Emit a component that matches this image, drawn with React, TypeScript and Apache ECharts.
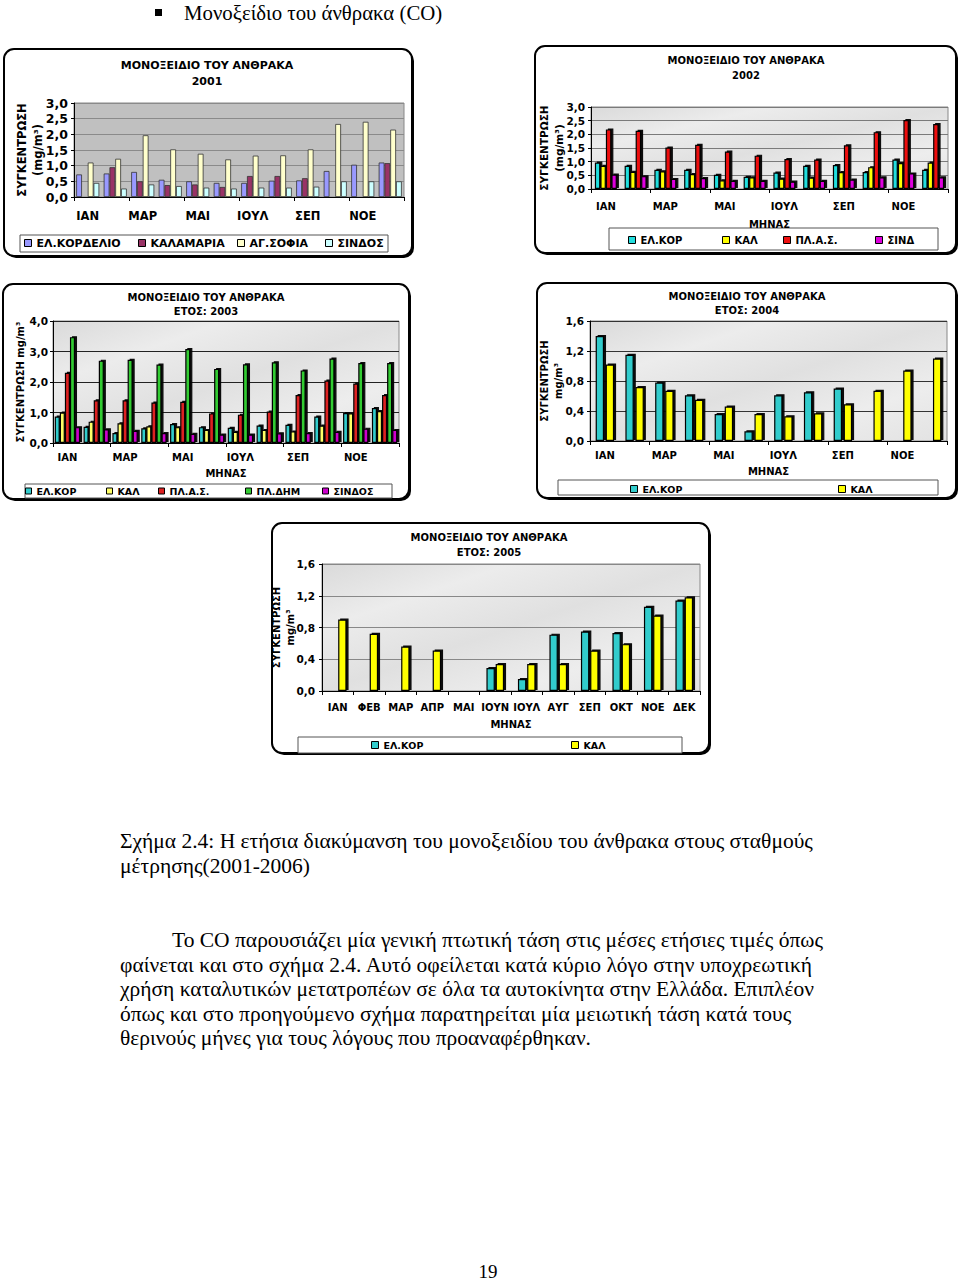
import React, { useEffect, useRef } from 'react';
import * as echarts from 'echarts';

// ---------- categories ----------
const months = ['ΙΑΝ', 'ΦΕΒ', 'ΜΑΡ', 'ΑΠΡ', 'ΜΑΙ', 'ΙΟΥΝ', 'ΙΟΥΛ', 'ΑΥΓ', 'ΣΕΠ', 'ΟΚΤ', 'ΝΟΕ', 'ΔΕΚ'];

// ---------- 2001 ----------
const kordelio2001 = [0.72, 0.75, 0.80, 0.55, 0.50, 0.45, 0.45, 0.52, 0.53, 0.83, 1.03, 1.10];
const kalamaria2001 = [null, 0.95, 0.50, 0.38, 0.40, 0.32, 0.67, 0.67, 0.60, null, null, 1.08];
const agSofia2001 = [1.10, 1.22, 1.97, 1.52, 1.38, 1.20, 1.32, 1.33, 1.52, 2.33, 2.40, 2.15];
const sindos2001 = [0.45, 0.27, 0.40, 0.35, 0.30, 0.27, 0.30, 0.30, 0.33, 0.50, 0.50, 0.50];

// ---------- 2002 ----------
const elkor2002 = [0.97, 0.85, 0.70, 0.70, 0.52, 0.45, 0.60, 0.85, 0.88, 0.62, 1.08, 0.70];
const kal2002 = [0.85, 0.63, 0.65, 0.55, 0.32, 0.43, 0.38, 0.42, 0.62, 0.80, 0.95, 0.97];
const plas2002 = [2.18, 2.13, 1.52, 1.62, 1.37, 1.22, 1.10, 1.08, 1.60, 2.08, 2.52, 2.38];
const sind2002 = [0.53, 0.47, 0.37, 0.40, 0.30, 0.30, 0.27, 0.30, 0.35, 0.43, 0.57, 0.43];

// ---------- 2003 ----------
const elkor2003 = [0.87, 0.53, 0.33, 0.48, 0.62, 0.52, 0.50, 0.57, 0.60, 0.87, 0.98, 1.15];
const kal2003 = [1.00, 0.70, 0.65, 0.55, 0.52, 0.43, 0.37, 0.43, 0.38, 0.57, 0.97, 1.05];
const plas2003 = [2.30, 1.40, 1.40, 1.33, 1.35, 0.97, 0.93, 1.03, 1.57, 2.05, 1.95, 1.57];
const pldim2003 = [3.47, 2.70, 2.73, 2.57, 3.08, 2.43, 2.58, 2.65, 2.38, 2.77, 2.62, 2.62];
const sindos2003 = [0.52, 0.45, 0.40, 0.33, 0.30, 0.28, 0.28, 0.32, 0.33, 0.37, 0.47, 0.43];

// ---------- 2004 ----------
const elkor2004 = [1.40, 1.15, 0.78, 0.61, 0.36, 0.13, 0.61, 0.65, 0.70, null, null, null];
const kal2004 = [1.02, 0.72, 0.67, 0.55, 0.46, 0.36, 0.33, 0.37, 0.49, 0.67, 0.94, 1.10];

// ---------- 2005 ----------
const elkor2005 = [null, null, null, null, null, 0.29, 0.15, 0.71, 0.75, 0.73, 1.06, 1.14];
const kal2005 = [0.90, 0.72, 0.56, 0.51, null, 0.34, 0.34, 0.34, 0.51, 0.59, 0.95, 1.18];

// ---------- texts ----------
const chartTitle = 'ΜΟΝΟΞΕΙΔΙΟ ΤΟΥ ΑΝΘΡΑΚΑ';
const headingText = 'Μονοξείδιο του άνθρακα (CO)';
const captionLines = [
  'Σχήμα 2.4: Η ετήσια διακύμανση του μονοξειδίου του άνθρακα στους σταθμούς',
  'μέτρησης(2001-2006)',
];
const paragraphLines = [
  'Το CO παρουσιάζει μία γενική πτωτική τάση στις μέσες ετήσιες τιμές όπως',
  'φαίνεται και στο σχήμα 2.4. Αυτό οφείλεται κατά κύριο λόγο στην υποχρεωτική',
  'χρήση καταλυτικών μετατροπέων σε όλα τα αυτοκίνητα στην Ελλάδα. Επιπλέον',
  'όπως και στο προηγούμενο σχήμα παρατηρείται μία μειωτική τάση κατά τους',
  'θερινούς μήνες για τους λόγους που προαναφέρθηκαν.',
];
const pageNumber = '19';

const CF = "'DejaVu Sans', Verdana, sans-serif";
const SERIF = "'Liberation Serif', 'Times New Roman', serif";

type SDef = { name: string; data: (number | null)[]; color: string; legendLeft: number };
type Panel = {
  title: string; titleX: number; titleTop: number; titleSize: number; titleLH: number;
  grid: { left: number; top: number; width: number; height: number };
  yMax: number; yInterval: number; splitColor: string; bg: any;
  yName: string; yNameGap: number; yNameLH: number; yNameSize: number;
  yLabelSize: number; yLabelMargin: number;
  xLabelSize: number; xLabelMargin: number; xLabelInterval: number;
  xName: string; xNameGap: number;
  barCategoryGap: string; barGap: string; shadow: boolean; borderColor: string;
  legendY: number; legendSize: number; legendIcon: number;
  box: [number, number, number, number]; legendBox: [number, number, number, number];
  series: SDef[];
};

const marble = () => new echarts.graphic.LinearGradient(0, 0, 1, 1, [
  { offset: 0, color: '#dadada' },
  { offset: 0.25, color: '#ececec' },
  { offset: 0.5, color: '#e0e0e0' },
  { offset: 0.75, color: '#ededed' },
  { offset: 1, color: '#e2e2e2' },
]);

const panels: Panel[] = [
  {
    title: chartTitle + '\n2001', titleX: 207, titleTop: 57, titleSize: 11, titleLH: 16,
    grid: { left: 74, top: 103, width: 330, height: 94 },
    yMax: 3, yInterval: 0.5, splitColor: '#8a8a8a', bg: '#c0c0c0',
    yName: 'ΣΥΓΚΕΝΤΡΩΣΗ\n(mg/m³)', yNameGap: 28, yNameLH: 16, yNameSize: 11.5,
    yLabelSize: 12.5, yLabelMargin: 6,
    xLabelSize: 11.5, xLabelMargin: 13, xLabelInterval: 1,
    xName: '', xNameGap: 0,
    barCategoryGap: '16%', barGap: '0%', shadow: false, borderColor: '#333',
    legendY: 243, legendSize: 11, legendIcon: 7,
    box: [4, 49, 408, 207], legendBox: [20, 235, 368, 17],
    series: [
      { name: 'ΕΛ.ΚΟΡΔΕΛΙΟ', data: kordelio2001, color: '#9999ff', legendLeft: 24 },
      { name: 'ΚΑΛΑΜΑΡΙΑ', data: kalamaria2001, color: '#993366', legendLeft: 138 },
      { name: 'ΑΓ.ΣΟΦΙΑ', data: agSofia2001, color: '#ffffcc', legendLeft: 237 },
      { name: 'ΣΙΝΔΟΣ#2001', data: sindos2001, color: '#ccffff', legendLeft: 325 },
    ],
  },
  {
    title: chartTitle + '\n2002', titleX: 746, titleTop: 53, titleSize: 10, titleLH: 15,
    grid: { left: 591, top: 107, width: 357, height: 82 },
    yMax: 3, yInterval: 0.5, splitColor: '#7a7a7a', bg: marble(),
    yName: 'ΣΥΓΚΕΝΤΡΩΣΗ\n(mg/m³)', yNameGap: 25, yNameLH: 15, yNameSize: 10.5,
    yLabelSize: 10.5, yLabelMargin: 6,
    xLabelSize: 10, xLabelMargin: 12, xLabelInterval: 1,
    xName: 'ΜΗΝΑΣ', xNameGap: 30,
    barCategoryGap: '26%', barGap: '0%', shadow: true, borderColor: '#000',
    legendY: 240, legendSize: 10, legendIcon: 7,
    box: [535, 46, 421, 207], legendBox: [609, 228, 329, 22],
    series: [
      { name: 'ΕΛ.ΚΟΡ#2002', data: elkor2002, color: '#22dddd', legendLeft: 628 },
      { name: 'ΚΑΛ#2002', data: kal2002, color: '#ffff00', legendLeft: 722 },
      { name: 'ΠΛ.Α.Σ.#2002', data: plas2002, color: '#ee1111', legendLeft: 783 },
      { name: 'ΣΙΝΔ#2002', data: sind2002, color: '#dd00dd', legendLeft: 875 },
    ],
  },
  {
    title: chartTitle + '\nΕΤΟΣ: 2003', titleX: 206, titleTop: 290, titleSize: 10, titleLH: 14,
    grid: { left: 53, top: 321, width: 346, height: 122 },
    yMax: 4, yInterval: 1, splitColor: '#222', bg: marble(),
    yName: 'ΣΥΓΚΕΝΤΡΩΣΗ mg/m³', yNameGap: 26, yNameLH: 14, yNameSize: 10,
    yLabelSize: 10.5, yLabelMargin: 5,
    xLabelSize: 10, xLabelMargin: 9, xLabelInterval: 1,
    xName: 'ΜΗΝΑΣ', xNameGap: 25,
    barCategoryGap: '12%', barGap: '0%', shadow: true, borderColor: '#000',
    legendY: 491, legendSize: 9.5, legendIcon: 6,
    box: [3, 284, 406, 215], legendBox: [25, 484, 367, 14],
    series: [
      { name: 'ΕΛ.ΚΟΡ#2003', data: elkor2003, color: '#33cccc', legendLeft: 25 },
      { name: 'ΚΑΛ#2003', data: kal2003, color: '#ffff66', legendLeft: 106 },
      { name: 'ΠΛ.Α.Σ.#2003', data: plas2003, color: '#dd2020', legendLeft: 158 },
      { name: 'ΠΛ.ΔΗΜ#2003', data: pldim2003, color: '#33cc33', legendLeft: 245 },
      { name: 'ΣΙΝΔΟΣ#2003', data: sindos2003, color: '#cc00cc', legendLeft: 322 },
    ],
  },
  {
    title: chartTitle + '\nΕΤΟΣ: 2004', titleX: 747, titleTop: 289, titleSize: 10, titleLH: 14,
    grid: { left: 590, top: 321, width: 357, height: 120 },
    yMax: 1.6, yInterval: 0.4, splitColor: '#333', bg: marble(),
    yName: 'ΣΥΓΚΕΝΤΡΩΣΗ\nmg/m³', yNameGap: 25, yNameLH: 14, yNameSize: 10,
    yLabelSize: 10.5, yLabelMargin: 6,
    xLabelSize: 10, xLabelMargin: 9, xLabelInterval: 1,
    xName: 'ΜΗΝΑΣ', xNameGap: 25,
    barCategoryGap: '38%', barGap: '20%', shadow: true, borderColor: '#000',
    legendY: 489, legendSize: 9.5, legendIcon: 7,
    box: [537, 283, 419, 215], legendBox: [558, 480, 380, 15],
    series: [
      { name: 'ΕΛ.ΚΟΡ#2004', data: elkor2004, color: '#33cccc', legendLeft: 630 },
      { name: 'ΚΑΛ#2004', data: kal2004, color: '#ffff00', legendLeft: 838 },
    ],
  },
  {
    title: chartTitle + '\nΕΤΟΣ: 2005', titleX: 489, titleTop: 530, titleSize: 10, titleLH: 15,
    grid: { left: 322, top: 564, width: 378, height: 127 },
    yMax: 1.6, yInterval: 0.4, splitColor: '#888', bg: marble(),
    yName: 'ΣΥΓΚΕΝΤΡΩΣΗ\nmg/m³', yNameGap: 25, yNameLH: 14, yNameSize: 10,
    yLabelSize: 10.5, yLabelMargin: 7,
    xLabelSize: 10, xLabelMargin: 11, xLabelInterval: 0,
    xName: 'ΜΗΝΑΣ', xNameGap: 28,
    barCategoryGap: '44%', barGap: '10%', shadow: true, borderColor: '#000',
    legendY: 745, legendSize: 9.5, legendIcon: 7,
    box: [272, 523, 437, 230], legendBox: [298, 737, 384, 16],
    series: [
      { name: 'ΕΛ.ΚΟΡ#2005', data: elkor2005, color: '#33cccc', legendLeft: 371 },
      { name: 'ΚΑΛ#2005', data: kal2005, color: '#ffff00', legendLeft: 571 },
    ],
  },
];

const fmt = (v: number) => v.toFixed(1).replace('.', ',');
const labelOf = (name: string) => name.split('#')[0];

function buildOption() {
  const grid: any[] = [];
  const xAxis: any[] = [];
  const yAxis: any[] = [];
  const series: any[] = [];
  const legend: any[] = [];
  const title: any[] = [];
  const graphic: any[] = [];

  panels.forEach((p, i) => {
    const [bx, by, bw, bh] = p.box;
    graphic.push({ type: 'rect', z: -20, shape: { x: bx + 2, y: by + 2, width: bw, height: bh, r: 10 }, style: { fill: '#000' } });
    graphic.push({ type: 'rect', z: -19, shape: { x: bx, y: by, width: bw, height: bh, r: 10 }, style: { fill: '#fff', stroke: '#000', lineWidth: 2 } });
    const [lx, ly, lw, lh] = p.legendBox;
    graphic.push({ type: 'rect', z: -18, shape: { x: lx, y: ly, width: lw, height: lh }, style: { fill: '#fff', stroke: '#555', lineWidth: 1 } });

    grid.push({
      ...p.grid, show: true, backgroundColor: p.bg, borderColor: '#888', borderWidth: 1,
      containLabel: false, outerBoundsMode: 'none',
    });
    title.push({
      text: p.title, left: p.titleX, top: p.titleTop, textAlign: 'center', padding: 0,
      textStyle: { fontFamily: CF, fontWeight: 'bold', fontSize: p.titleSize, lineHeight: p.titleLH, color: '#000' },
    });
    xAxis.push({
      type: 'category', gridIndex: i, data: months,
      name: p.xName, nameLocation: 'middle', nameGap: p.xNameGap, nameMoveOverlap: false,
      nameTextStyle: { fontFamily: CF, fontWeight: 'bold', fontSize: p.xLabelSize, color: '#000' },
      axisLine: { lineStyle: { color: '#000', width: 1 } },
      axisTick: { show: true, length: 4, lineStyle: { color: '#000' } },
      axisLabel: { interval: p.xLabelInterval, margin: p.xLabelMargin, fontFamily: CF, fontWeight: 'bold', fontSize: p.xLabelSize, color: '#000' },
    });
    yAxis.push({
      type: 'value', gridIndex: i, min: 0, max: p.yMax, interval: p.yInterval,
      name: p.yName, nameLocation: 'middle', nameRotate: 90, nameGap: p.yNameGap, nameMoveOverlap: false,
      nameTextStyle: { fontFamily: CF, fontWeight: 'bold', fontSize: p.yNameSize, lineHeight: p.yNameLH, color: '#000' },
      axisLine: { show: true, lineStyle: { color: '#000', width: 1 } },
      axisTick: { show: true, length: 3, lineStyle: { color: '#000' } },
      axisLabel: { formatter: fmt, margin: p.yLabelMargin, fontFamily: CF, fontWeight: 'bold', fontSize: p.yLabelSize, color: '#000' },
      splitLine: { show: true, lineStyle: { color: p.splitColor, width: 1 } },
    });
    p.series.forEach((s) => {
      series.push({
        type: 'bar', name: s.name, xAxisIndex: i, yAxisIndex: i, data: s.data,
        barGap: p.barGap, barCategoryGap: p.barCategoryGap, silent: true,
        itemStyle: {
          color: s.color, borderColor: p.borderColor, borderWidth: p.shadow ? 1.2 : 0.8,
          ...(p.shadow ? { shadowColor: 'rgba(0,0,0,0.95)', shadowOffsetX: 2, shadowOffsetY: -1, shadowBlur: 0.5 } : {}),
        },
      });
      legend.push({
        data: [s.name], left: s.legendLeft, top: p.legendY - 7, padding: 0,
        icon: 'rect', itemWidth: p.legendIcon, itemHeight: p.legendIcon, selectedMode: false,
        formatter: (n: string) => labelOf(n),
        itemStyle: { borderColor: '#000', borderWidth: 1 },
        textStyle: { fontFamily: CF, fontWeight: 'bold', fontSize: p.legendSize, color: '#000', lineHeight: 14 },
      });
    });
  });

  // page texts
  graphic.push({ type: 'rect', shape: { x: 155, y: 9, width: 7, height: 7 }, style: { fill: '#000' } });
  graphic.push({ type: 'text', x: 184, y: 12, style: { text: headingText, font: `20.8px ${SERIF}`, fill: '#000', verticalAlign: 'middle', align: 'left' } });
  captionLines.forEach((t, k) => {
    graphic.push({ type: 'text', x: 120, y: 841 + k * 24.5, style: { text: t, font: `21.5px ${SERIF}`, fill: '#000', verticalAlign: 'middle', align: 'left' } });
  });
  paragraphLines.forEach((t, k) => {
    graphic.push({ type: 'text', x: k === 0 ? 172 : 120, y: 940 + k * 24.6, style: { text: t, font: `21.5px ${SERIF}`, fill: '#000', verticalAlign: 'middle', align: 'left' } });
  });
  graphic.push({ type: 'text', x: 488, y: 1271, style: { text: pageNumber, font: `19px ${SERIF}`, fill: '#000', verticalAlign: 'middle', align: 'center' } });

  return {
    animation: false,
    backgroundColor: '#fff',
    title, grid, xAxis, yAxis, series, legend, graphic,
    tooltip: { show: false },
  };
}

export default function App() {
  const ref = useRef<HTMLDivElement>(null);
  useEffect(() => {
    if (!ref.current) return;
    const chart = echarts.init(ref.current, undefined, { renderer: 'svg' });
    chart.setOption(buildOption() as any);
    return () => chart.dispose();
  }, []);
  return <div ref={ref} style={{ position: 'absolute', left: 0, top: 0, width: 960, height: 1282 }} />;
}
